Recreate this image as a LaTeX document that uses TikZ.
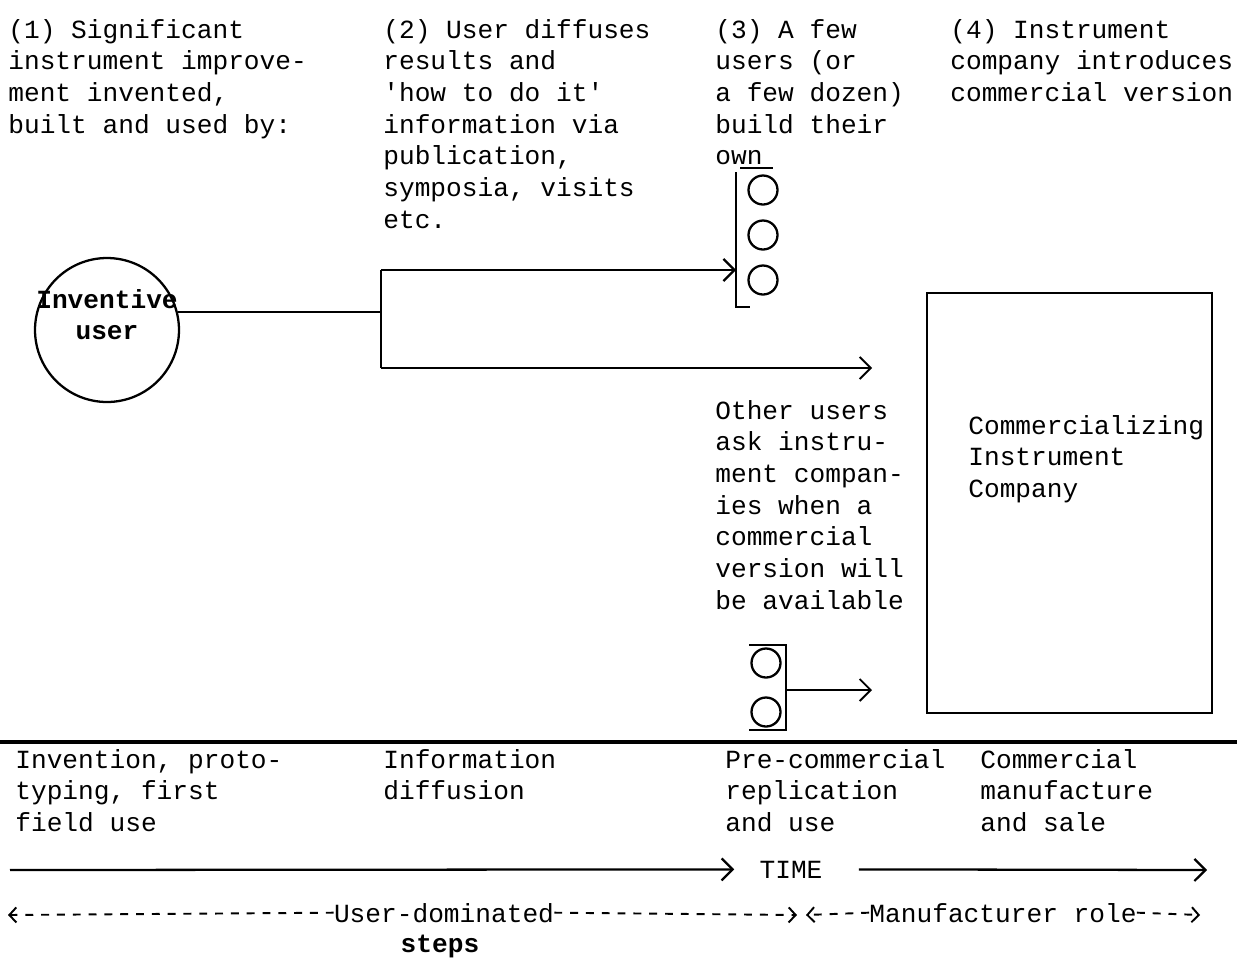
\documentclass[tikz,border=0pt]{standalone}
\usepackage{fontspec}
\setmonofont{Liberation Mono}
\usetikzlibrary{arrows.meta,positioning}
\tikzset{
  tw/.style={font=\ttfamily\fontsize{14.9}{18}\selectfont,align=left,inner sep=0pt,
             anchor=north west,execute at begin node=\strut},
  one/.style={font=\ttfamily\fontsize{14.9}{18}\selectfont,inner sep=0pt,anchor=base},
  ln/.style={line width=1.3pt,draw=black},
  arr/.style={ln,-{Straight Barb[length=2.2mm,width=4.4mm]}},
  darr/.style={line width=1.1pt,dash pattern=on 4.5pt off 4.5pt,-{Straight Barb[length=1.4mm,width=3mm]}},
  bigc/.style={circle,draw,line width=1.3pt,minimum size=2.88cm,inner sep=0pt},
  unit/.style={circle,draw,line width=1.3pt,minimum size=0.58cm,inner sep=0pt},
  firm/.style={rectangle,draw,line width=1.4pt,minimum width=5.7cm,minimum height=8.4cm,inner sep=0pt}
}
\begin{document}
\begin{tikzpicture}[x=0.02cm,y=-0.02cm]
  \useasboundingbox (0,0) rectangle (1237,961);
  % the four stages
  \node[tw] (h1) at (8,19) {(1) Significant\\instrument improve-\\ment invented,\\built and used by:};
  \node[tw] (h2) at (383,19) {(2) User diffuses\\results and\\'how to do it'\\information via\\publication,\\symposia, visits\\etc.};
  \node[tw] (h3) at (715,19) {(3) A few\\users (or\\a few dozen)\\build their\\own};
  \node[tw] (h4) at (950,19) {(4) Instrument\\company introduces\\commercial version};
  % inventor
  \node[bigc] (inv) at (107,330) {};
  \node[tw,anchor=north,align=center] (invt) at (107,289) {\bfseries Inventive\\\bfseries user};
  \coordinate (jt) at (381,270);
  \coordinate (jb) at (381,368);
  \draw[ln] (inv.14) -- (inv.14 -| jt);
  \draw[ln] (jt) -- (jb);
  % users building their own
  \node[unit] (u1) at (763,190) {};
  \node[unit] (u2) at (763,235) {};
  \node[unit] (u3) at (763,280) {};
  \coordinate (b1) at (736,270);
  \draw[ln] (740,168) -- (773,168);
  \draw[ln] (736,172) -- (736,307) -- (750,307);
  \draw[arr] (jt) -- (b1);
  \coordinate (oth) at (872,368);
  \draw[arr,line width=1.1pt] (jb) -- (oth);
  \node[tw] (ask) at (715,400) {Other users\\ask instru-\\ment compan-\\ies when a\\commercial\\version will\\be available};
  % users asking
  \node[unit] (v1) at (766,663) {};
  \node[unit] (v2) at (766,712) {};
  \coordinate (b2) at (786,690);
  \coordinate (req) at (872,690);
  \draw[ln] (749,645) -- (786,645) -- (786,730) -- (749,730);
  \draw[arr,line width=1.1pt] (b2) -- (req);
  % company
  \node[firm] (co) at (1069.5,503) {};
  \node[tw] (cot) at (968,415) {Commercializing\\Instrument\\Company};
  % phases
  \draw[line width=1.8pt] (0,742) -- (1237,742);
  \node[tw] (p1) at (15,749) {Invention, proto-\\typing, first\\field use};
  \node[tw] (p2) at (383,749) {Information\\diffusion};
  \node[tw] (p3) at (725,749) {Pre-commercial\\replication\\and use};
  \node[tw] (p4) at (980,749) {Commercial\\manufacture\\and sale};
  % time axis
  \node[one] (time) at (791,878) {TIME};
  \coordinate (t0) at (10,870);
  \coordinate (t1) at (1207,870);
  \draw[arr] (t0) -- ([xshift=-0.5cm]time.west);
  \draw[arr] ([xshift=0.72cm]time.east) -- (t1);
  % roles
  \node[one] (ud) at (444,922) {User-dominated};
  \node[one] (st) at (440,952) {\bfseries steps};
  \node[one] (mr) at (1003,922) {Manufacturer role};
  \draw[darr] (ud.west) -- (8,915);
  \draw[darr] (ud.east) -- (797,915);
  \draw[darr] (mr.west) -- (806,915);
  \draw[darr] (mr.east) -- (1200,915);
\end{tikzpicture}
\end{document}
